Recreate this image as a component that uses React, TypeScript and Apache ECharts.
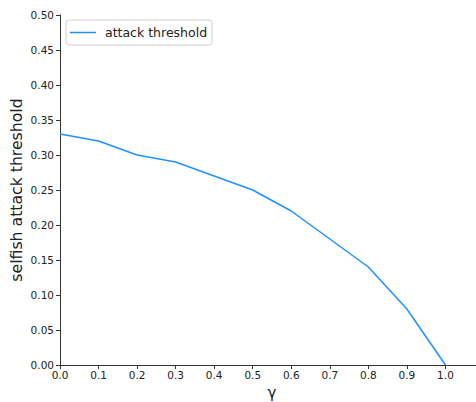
import React, { useEffect, useRef } from "react";
import * as echarts from "echarts";

// gamma values and the corresponding selfish attack threshold
const gammaValues = [0.0, 0.1, 0.2, 0.3, 0.4, 0.5, 0.6, 0.7, 0.8, 0.9, 1.0];
const thresholdValues = [0.33, 0.32, 0.30, 0.29, 0.27, 0.25, 0.22, 0.18, 0.14, 0.08, 0.0];
const seriesName = "attack threshold";
const xTitle = "γ";
const yTitle = "selfish attack threshold";

const FONT = "DejaVu Sans";

export default function App() {
  const ref = useRef<HTMLDivElement>(null);

  useEffect(() => {
    if (!ref.current) return;
    const chart = echarts.init(ref.current, undefined, { renderer: "svg" });
    chart.setOption({
      animation: false,
      backgroundColor: "#ffffff",
      textStyle: { fontFamily: FONT },
      grid: {
        left: 60,
        right: -8,
        top: 15,
        bottom: 37,
        containLabel: false,
        outerBoundsMode: "none",
      },
      legend: {
        show: true,
        left: 66,
        top: 20,
        padding: [6, 5, 6, 4],
        borderColor: "#d0d0d0",
        borderWidth: 1,
        borderRadius: 3,
        backgroundColor: "rgba(255,255,255,0.8)",
        itemWidth: 26,
        itemHeight: 10,
        itemGap: 8,
        textStyle: { fontFamily: FONT, fontSize: 12.5, color: "#222", padding: [0, 0, 0, 4] },
        data: [{ name: seriesName, icon: "path://M0,0 L26,0 L26,1.5 L0,1.5 Z" }],
      },
      xAxis: {
        type: "value",
        min: 0,
        max: 1.1,
        interval: 0.1,
        name: xTitle,
        nameLocation: "middle",
        nameGap: 20,
        nameMoveOverlap: false,
        nameTextStyle: { fontFamily: FONT, fontSize: 15, color: "#222" },
        splitLine: { show: false },
        axisLine: { show: true, onZero: false, lineStyle: { color: "#333", width: 1 } },
        axisTick: { show: true, inside: false, length: 4, lineStyle: { color: "#333" } },
        axisLabel: {
          fontFamily: FONT,
          fontSize: 10.5,
          color: "#222",
          margin: 4,
          formatter: (v: number) => (v > 1.05 ? "" : v.toFixed(1)),
        },
      },
      yAxis: {
        type: "value",
        min: 0,
        max: 0.5,
        interval: 0.05,
        name: yTitle,
        nameLocation: "middle",
        nameGap: 36,
        nameMoveOverlap: false,
        nameTextStyle: { fontFamily: FONT, fontSize: 15.7, color: "#222" },
        splitLine: { show: false },
        axisLine: { show: true, lineStyle: { color: "#333", width: 1 } },
        axisTick: { show: true, inside: false, length: 4, lineStyle: { color: "#333" } },
        axisLabel: {
          fontFamily: FONT,
          fontSize: 10.5,
          color: "#222",
          margin: 6,
          formatter: (v: number) => v.toFixed(2),
        },
      },
      series: [
        {
          name: seriesName,
          type: "line",
          data: gammaValues.map((g, i) => [g, thresholdValues[i]]),
          symbol: "none",
          showSymbol: false,
          color: "#1e90ff",
          lineStyle: { color: "#1e90ff", width: 1.5 },
        },
      ],
    });
    return () => chart.dispose();
  }, []);

  return <div ref={ref} style={{ width: 476, height: 402, position: "absolute", left: 0, top: 0 }} />;
}
